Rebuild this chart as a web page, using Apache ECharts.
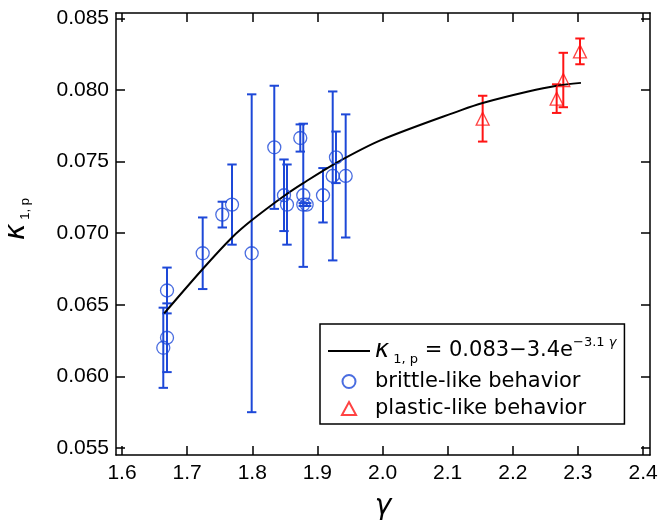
<!DOCTYPE html>
<html><head><meta charset="utf-8">
<script src="https://cdn.jsdelivr.net/npm/echarts@6/dist/echarts.min.js"></script>
<style>html,body{margin:0;padding:0;background:#fff}#c{width:659px;height:525px}</style>
</head><body><div id="c"></div>
<script>
// ---- data ----
const xTicks = [1.6, 1.7, 1.8, 1.9, 2.0, 2.1, 2.2, 2.3, 2.4];
const yTicks = [0.055, 0.060, 0.065, 0.070, 0.075, 0.080, 0.085];

const brittleGamma = [1.6691, 1.6691, 1.6634, 1.7239, 1.7540, 1.7689, 1.7991, 1.8338, 1.8487, 1.8533, 1.8737, 1.8783, 1.8783, 1.8835, 1.9086, 1.9235, 1.9285, 1.9434];
const brittleKappa = [0.0660, 0.0627, 0.0620, 0.0686, 0.0713, 0.0720, 0.0686, 0.0760, 0.07265, 0.0720, 0.07665, 0.07265, 0.0720, 0.0720, 0.07265, 0.0740, 0.0753, 0.0740];
const brittleErr   = [0.0016, 0.0024, 0.0028, 0.0025, 0.0009, 0.0028, 0.0111, 0.0043, 0.0025, 0.0028, 0.00095, 0.0050, 0.0001, 0.0001, 0.0019, 0.0059, 0.0018, 0.0043];

const plasticGamma = [2.1537, 2.2673, 2.2775, 2.3031];
const plasticKappa = [0.0780, 0.0794, 0.0807, 0.0827];
const plasticErr   = [0.0016, 0.0010, 0.0019, 0.0009];

const fitGamma = [1.6647, 1.7239, 1.7689, 1.7991, 1.8487, 1.8783, 1.9285, 1.9975, 2.1208, 2.1537, 2.2236, 2.2673, 2.3046];
const fitKappa = [0.0644, 0.0675, 0.0697, 0.0709, 0.0726, 0.0735, 0.0749, 0.0765, 0.0786, 0.0791, 0.0799, 0.0803, 0.0805];

const fitName = 'fit';
const brittleName = 'brittle-like behavior';
const plasticName = 'plastic-like behavior';

// ---- styles ----
const BLUE = '#1d48d8';
const RED = '#ff1414';
const tickFont = 'Liberation Sans, Arial, sans-serif';
const legFont = 'DejaVu Sans, sans-serif';

function errSeries(name, gammas, kappas, errs, color) {
  return {
    type: 'custom', name: name + '-err', silent: true, z: 2,
    encode: { x: 0, y: [1, 2] },
    data: gammas.map((g, i) => [g, kappas[i] - errs[i], kappas[i] + errs[i]]),
    renderItem: function (params, api) {
      const x = api.value(0);
      const pLo = api.coord([x, api.value(1)]);
      const pHi = api.coord([x, api.value(2)]);
      const hw = 4.7;
      const st = { stroke: color, lineWidth: 2 };
      return { type: 'group', children: [
        { type: 'line', shape: { x1: pLo[0], y1: pLo[1], x2: pHi[0], y2: pHi[1] }, style: st },
        { type: 'line', shape: { x1: pLo[0] - hw, y1: pLo[1], x2: pLo[0] + hw, y2: pLo[1] }, style: st },
        { type: 'line', shape: { x1: pHi[0] - hw, y1: pHi[1], x2: pHi[0] + hw, y2: pHi[1] }, style: st }
      ]};
    }
  };
}

const XMIN = 1.5908, XMAX = 2.4106, YMIN = 0.05451, YMAX = 0.08538;
const frameLine = { show: true, onZero: false, lineStyle: { color: '#000', width: 1.5 } };
function tickStyle(vals) { return { show: true, inside: true, length: 9, customValues: vals, lineStyle: { color: '#000', width: 1.5 } }; }

const chart = echarts.init(document.getElementById('c'), null, { renderer: 'canvas' });
chart.setOption({
  animation: false,
  backgroundColor: '#fff',
  grid: { left: 116, top: 13, width: 534, height: 442, containLabel: false, outerBoundsMode: 'none' },
  xAxis: [
    { type: 'value', position: 'bottom', min: XMIN, max: XMAX, axisLine: frameLine, splitLine: { show: false },
      axisTick: tickStyle(xTicks),
      axisLabel: { customValues: xTicks, formatter: v => v.toFixed(1), color: '#000', fontSize: 21, fontFamily: tickFont, margin: 8 },
      name: 'γ', nameLocation: 'middle', nameGap: 38,
      nameTextStyle: { fontSize: 28, fontStyle: 'italic', fontFamily: 'DejaVu Sans, sans-serif', color: '#000' } },
    { type: 'value', position: 'top', min: XMIN, max: XMAX, axisLine: frameLine, splitLine: { show: false },
      axisTick: tickStyle(xTicks), axisLabel: { show: false } }
  ],
  yAxis: [
    { type: 'value', position: 'left', min: YMIN, max: YMAX, axisLine: frameLine, splitLine: { show: false },
      axisTick: tickStyle(yTicks),
      axisLabel: { customValues: yTicks, formatter: v => v.toFixed(3), color: '#000', fontSize: 21, fontFamily: tickFont, margin: 7 },
      name: '{k|κ}{s| 1, p}', nameLocation: 'middle', nameGap: 84,
      nameTextStyle: { color: '#000', padding: [0, 0, 0, 30], rich: {
        k: { fontSize: 28, fontStyle: 'italic', fontFamily: 'DejaVu Sans, sans-serif', color: '#000', lineHeight: 30 },
        s: { fontSize: 13, fontFamily: tickFont, color: '#000', verticalAlign: 'bottom', lineHeight: 30 }
      } } },
    { type: 'value', position: 'right', min: YMIN, max: YMAX, axisLine: frameLine, splitLine: { show: false },
      axisTick: tickStyle(yTicks), axisLabel: { show: false } }
  ],
  legend: {
    orient: 'vertical', left: 320, top: 324,
    padding: [12, 8, 4, 8], itemGap: 4, itemWidth: 42, itemHeight: 13,
    borderColor: '#000', borderWidth: 1.5, backgroundColor: '#fff',
    data: [
      { name: fitName, icon: 'path://M0,0h42v2h-42z' },
      { name: brittleName, icon: 'circle' },
      { name: plasticName, icon: 'path://M6.5,0L13,12L0,12Z' }
    ],
    formatter: n => n === fitName ? '{k|κ}{sub| 1, p}{t| = 0.083−3.4e}{sup|−3.1 }{sg|γ}' : n,
    textStyle: { fontSize: 21, fontFamily: legFont, color: '#000', lineHeight: 23, rich: {
      k: { fontSize: 24, fontStyle: 'italic', fontFamily: legFont, color: '#000', lineHeight: 30 },
      sub: { fontSize: 13, fontFamily: legFont, color: '#000', verticalAlign: 'bottom', lineHeight: 15 },
      t: { fontSize: 21, fontFamily: legFont, color: '#000', lineHeight: 30 },
      sup: { fontSize: 13, fontFamily: legFont, color: '#000', verticalAlign: 'top', lineHeight: 15 },
      sg: { fontSize: 13, fontStyle: 'italic', fontFamily: legFont, color: '#000', verticalAlign: 'top', lineHeight: 15 }
    } }
  },
  series: [
    errSeries(brittleName, brittleGamma, brittleKappa, brittleErr, BLUE),
    errSeries(plasticName, plasticGamma, plasticKappa, plasticErr, RED),
    { type: 'line', name: fitName, data: fitGamma.map((g, i) => [g, fitKappa[i]]), smooth: 0.3,
      symbol: 'none', showSymbol: false, z: 3,
      lineStyle: { color: '#000', width: 2 }, itemStyle: { color: '#000' } },
    { type: 'scatter', name: brittleName, data: brittleGamma.map((g, i) => [g, brittleKappa[i]]), symbol: 'circle', symbolSize: 13, z: 4,
      itemStyle: { color: 'rgba(255,255,255,0)', borderColor: BLUE, borderWidth: 1.3 } },
    { type: 'scatter', name: plasticName, data: plasticGamma.map((g, i) => [g, plasticKappa[i]]), symbol: 'triangle', symbolSize: 13, z: 4,
      itemStyle: { color: 'rgba(255,255,255,0)', borderColor: RED, borderWidth: 1.3 } }
  ]
});
</script>
</body></html>
